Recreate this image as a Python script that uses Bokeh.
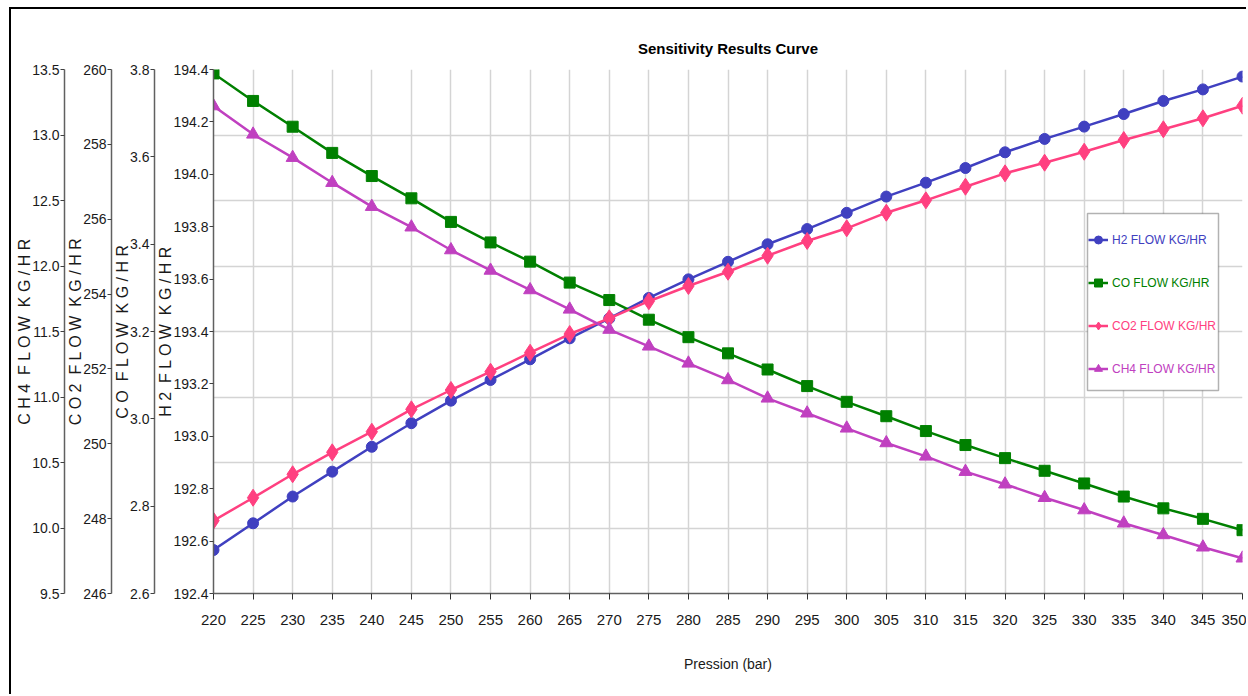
from bokeh.plotting import figure
from bokeh.models import (Range1d, LinearAxis, FixedTicker, NumeralTickFormatter,
                          Legend, LegendItem, Grid, BoxAnnotation)
from bokeh.embed import file_html
from bokeh.resources import INLINE

# ---------------- data ----------------
pressure = [220, 225, 230, 235, 240, 245, 250, 255, 260, 265, 270, 275, 280, 285,
            290, 295, 300, 305, 310, 315, 320, 325, 330, 335, 340, 345, 350]

h2_flow = [192.566, 192.668, 192.770, 192.865, 192.960, 193.050, 193.136, 193.215,
           193.294, 193.374, 193.450, 193.528, 193.599, 193.666, 193.733, 193.791,
           193.853, 193.915, 193.968, 194.024, 194.084, 194.135, 194.182, 194.230,
           194.280, 194.324, 194.373]

co_flow = [3.791, 3.728, 3.669, 3.609, 3.556, 3.505, 3.451, 3.404, 3.360, 3.312,
           3.272, 3.227, 3.187, 3.150, 3.113, 3.075, 3.039, 3.006, 2.972, 2.940,
           2.910, 2.881, 2.852, 2.822, 2.795, 2.771, 2.745]

co2_flow = [247.945, 248.559, 249.185, 249.772, 250.323, 250.921, 251.437, 251.926,
            252.433, 252.933, 253.352, 253.809, 254.215, 254.597, 255.025, 255.418,
            255.757, 256.174, 256.505, 256.868, 257.226, 257.510, 257.803, 258.116,
            258.402, 258.696, 259.032]

ch4_flow = [13.221, 13.005, 12.827, 12.636, 12.453, 12.296, 12.122, 11.966, 11.817,
            11.669, 11.515, 11.387, 11.257, 11.130, 10.990, 10.876, 10.761, 10.649,
            10.547, 10.430, 10.334, 10.231, 10.137, 10.036, 9.947, 9.853, 9.769]

h2_ticks = [192.4, 192.6, 192.8, 193.0, 193.2, 193.4, 193.6, 193.8, 194.0, 194.2, 194.4]
co_ticks = [2.6, 2.8, 3.0, 3.2, 3.4, 3.6, 3.8]
co2_ticks = [246, 248, 250, 252, 254, 256, 258, 260]
ch4_ticks = [9.5, 10.0, 10.5, 11.0, 11.5, 12.0, 12.5, 13.0, 13.5]

series_names = ["H2 FLOW KG/HR", "CO FLOW KG/HR", "CO2 FLOW KG/HR", "CH4 FLOW KG/HR"]
G = " \u00a0"
axis_titles = ["H 2" + G + "F L O W" + G + "K G / H R",
               "C O" + G + "F L O W" + G + "K G / H R",
               "C O 2" + G + "F L O W" + G + "K G / H R",
               "C H 4" + G + "F L O W" + G + "K G / H R"]
title_text = "Sensitivity Results Curve"
x_title = "Pression (bar)"

# ---------------- styles ----------------
FONT = "Liberation Sans"
H2C, COC, CO2C, CH4C = "#4040c0", "#008000", "#ff4080", "#c040c0"
TXT = "#1a1a1a"

p = figure(width=1237, height=687,
           x_range=Range1d(pressure[0], pressure[-1]),
           y_range=Range1d(h2_ticks[0], h2_ticks[-1]),
           output_backend="svg", toolbar_location=None,
           min_border_left=202, min_border_right=6,
           min_border_top=60, min_border_bottom=103,
           title=title_text)
p.margin = (7, 0, 0, 9)
p.styles = {"border-left": "2px solid #000000", "border-top": "2px solid #000000"}
p.outline_line_color = None
p.background_fill_color = "white"
p.border_fill_color = "white"

p.title.align = "center"
p.title.text_font = FONT
p.title.text_font_style = "bold"
p.title.text_font_size = "15px"
p.title.text_color = "#000000"
p.title.standoff = 25

p.extra_y_ranges = {
    "co": Range1d(co_ticks[0], co_ticks[-1]),
    "co2": Range1d(co2_ticks[0], co2_ticks[-1]),
    "ch4": Range1d(ch4_ticks[0], ch4_ticks[-1]),
}


def style_y(ax, ticks, fmt, label):
    ax.ticker = FixedTicker(ticks=ticks)
    ax.formatter = NumeralTickFormatter(format=fmt)
    ax.axis_label = label
    ax.axis_label_text_font = FONT
    ax.axis_label_text_font_size = "16px"
    ax.axis_label_text_font_style = "normal"
    ax.axis_label_text_color = TXT
    ax.axis_label_standoff = -4
    ax.major_label_text_font = FONT
    ax.major_label_text_font_size = "14px"
    ax.major_label_text_color = TXT
    ax.major_label_standoff = 1
    ax.major_tick_in = 0
    ax.major_tick_out = 4
    ax.minor_tick_in = 0
    ax.minor_tick_out = 0
    ax.axis_line_color = "#606060"
    ax.axis_line_width = 1.5
    ax.major_tick_line_color = "#404040"


style_y(p.yaxis[0], h2_ticks, "0.0", axis_titles[0])
ax_co = LinearAxis(y_range_name="co")
style_y(ax_co, co_ticks, "0.0", axis_titles[1])
p.add_layout(ax_co, "left")
ax_co2 = LinearAxis(y_range_name="co2")
style_y(ax_co2, co2_ticks, "0", axis_titles[2])
p.add_layout(ax_co2, "left")
ax_ch4 = LinearAxis(y_range_name="ch4")
style_y(ax_ch4, ch4_ticks, "0.0", axis_titles[3])
p.add_layout(ax_ch4, "left")

xa = p.xaxis[0]
xa.ticker = FixedTicker(ticks=pressure)
xa.axis_label = x_title
xa.axis_label_text_font = FONT
xa.axis_label_text_font_size = "14px"
xa.axis_label_text_font_style = "normal"
xa.axis_label_text_color = TXT
xa.axis_label_standoff = 28
xa.major_label_text_font = FONT
xa.major_label_text_font_size = "15px"
xa.major_label_text_color = TXT
xa.major_label_standoff = 15
xa.major_tick_in = 0
xa.major_tick_out = 6
xa.minor_tick_in = 0
xa.minor_tick_out = 0
xa.axis_line_color = "#606060"
xa.axis_line_width = 1.5
xa.major_tick_line_color = "#303030"

# grid
p.xgrid.ticker = FixedTicker(ticks=pressure)
p.xgrid.grid_line_color = "#d4d4d4"
p.xgrid.grid_line_width = 1.5
p.ygrid.visible = False
p.add_layout(Grid(dimension=1, ticker=FixedTicker(ticks=ch4_ticks), y_range_name="ch4",
                  grid_line_color="#d4d4d4", grid_line_width=1.5))

# series
specs = [
    (h2_flow, "default", H2C, "circle", 11),
    (co_flow, "co", COC, "square", 11),
    (co2_flow, "co2", CO2C, "diamond", 17),
    (ch4_flow, "ch4", CH4C, "triangle", 13),
]
renderers = []
for vals, rng, col, mk, sz in specs:
    ln = p.line(pressure, vals, line_color=col, line_width=2.5, y_range_name=rng)
    pt = p.scatter(pressure, vals, marker=mk, size=sz, fill_color=col, line_color=col,
                   y_range_name=rng)
    renderers.append([ln, pt])

# legend box + one legend per series (coloured text)
p.add_layout(BoxAnnotation(left=874, right=1005, bottom=203, top=380,
                           left_units="screen", right_units="screen",
                           bottom_units="screen", top_units="screen",
                           fill_color="white", fill_alpha=1.0,
                           line_color="#000000", line_width=1.5))
colors = [H2C, COC, CO2C, CH4C]
for i, (name, col, rs) in enumerate(zip(series_names, colors, renderers)):
    leg = Legend(items=[LegendItem(label=name, renderers=rs)],
                 location=(875, 336 - 43 * i),
                 label_text_color=col, label_text_font=FONT,
                 label_text_font_size="12px",
                 background_fill_alpha=0.0, border_line_color=None,
                 padding=3, margin=0, glyph_width=20, glyph_height=35,
                 label_height=35, label_standoff=4)
    p.add_layout(leg)

open("out.html", "w").write(file_html(p, INLINE, title_text))
